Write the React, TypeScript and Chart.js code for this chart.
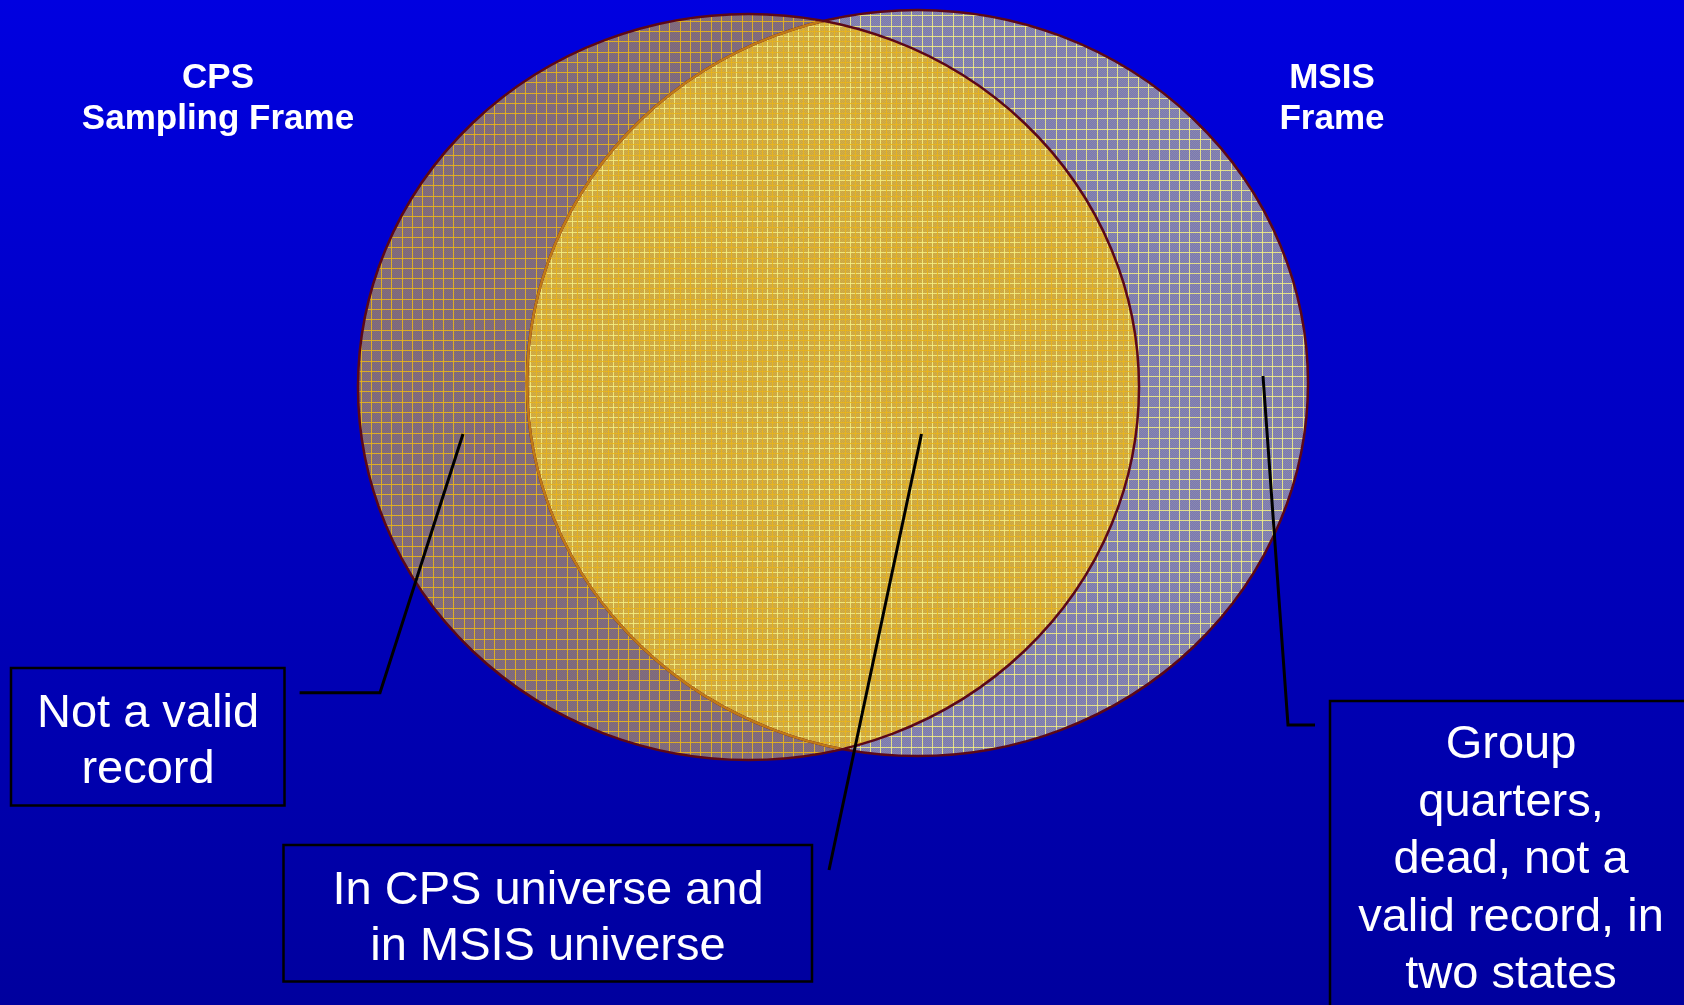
import React, { useEffect, useRef } from 'react';
import { Chart, registerables } from 'chart.js';

Chart.register(...registerables);

// ---------- data (in diagram units) ----------
const setNames = ['CPS', 'MSIS'];
const setCenterX = [748.5, 917.5];
const setCenterY = [387, 383];
const setRadiusX = [390.5, 390.5];
const setRadiusY = [373, 373];

const setTitles = [
  ['CPS', 'Sampling Frame'],
  ['MSIS', 'Frame'],
];

const calloutTexts = [
  ['Not a valid', 'record'],
  ['In CPS universe and', 'in MSIS universe'],
  ['Group', 'quarters,', 'dead, not a', 'valid record, in', 'two states'],
];

const leaderX = [
  [299.6, 380, 463],
  [921.5, 829],
  [1263, 1288, 1315],
];
const leaderY = [
  [692.7, 692.7, 434],
  [434, 870],
  [376, 725, 725],
];

// ---------- layout / style ----------
const W = 1684;
const H = 1005;
const titleLayout = [
  { cx: 218, base: 87.5, lh: 41 },
  { cx: 1332, base: 87.5, lh: 41 },
];
const boxLayout = [
  { x0: 11, y0: 668, x1: 284.5, y1: 805.5, cx: 148, base: 727, lh: 56 },
  { x0: 283.5, y0: 845, x1: 812, y1: 981.5, cx: 548, base: 904, lh: 56 },
  { x0: 1330, y0: 701, x1: 1692, y1: 1012, cx: 1511, base: 758, lh: 57.5 },
];
const GRID = 10.3;

function makeChecker(ctx: CanvasRenderingContext2D, a: string, b: string) {
  const c = document.createElement('canvas');
  c.width = 2;
  c.height = 2;
  const g = c.getContext('2d')!;
  g.fillStyle = a;
  g.fillRect(0, 0, 2, 2);
  g.fillStyle = b;
  g.fillRect(0, 0, 1, 1);
  g.fillRect(1, 1, 1, 1);
  return ctx.createPattern(c, 'repeat')!;
}

const vennPlugin = {
  id: 'venn',
  beforeDraw(chart: any) {
    const ctx: CanvasRenderingContext2D = chart.ctx;
    const grad = ctx.createLinearGradient(0, 0, 0, chart.height);
    grad.addColorStop(0, '#0000E0');
    grad.addColorStop(1, '#00009E');
    ctx.save();
    ctx.fillStyle = grad;
    ctx.fillRect(0, 0, chart.width, chart.height);
    ctx.restore();
  },
  beforeDatasetsDraw(chart: any) {
    const ctx: CanvasRenderingContext2D = chart.ctx;
    const xs = chart.scales.x;
    const ys = chart.scales.y;
    const ell = (i: number) => {
      const cx = xs.getPixelForValue(setCenterX[i]);
      const cy = ys.getPixelForValue(setCenterY[i]);
      const rx = Math.abs(xs.getPixelForValue(setCenterX[i] + setRadiusX[i]) - cx);
      const ry = Math.abs(ys.getPixelForValue(setCenterY[i] + setRadiusY[i]) - cy);
      ctx.beginPath();
      ctx.ellipse(cx, cy, rx, ry, 0, 0, Math.PI * 2);
    };
    const grid = (color: string, off: number, width: number) => {
      ctx.strokeStyle = color;
      ctx.lineWidth = width;
      ctx.beginPath();
      for (let x = off; x < chart.width; x += GRID) {
        const px = Math.round(x) + 0.5;
        ctx.moveTo(px, 0);
        ctx.lineTo(px, chart.height);
      }
      for (let y = off; y < chart.height; y += GRID) {
        const py = Math.round(y) + 0.5;
        ctx.moveTo(0, py);
        ctx.lineTo(chart.width, py);
      }
      ctx.stroke();
    };
    const L = setNames.indexOf('CPS');
    const R = setNames.indexOf('MSIS');

    ctx.save();
    // right set base
    ell(R);
    ctx.fillStyle = makeChecker(ctx, '#7878B4', '#8C88AC');
    ctx.fill();
    // left set base
    ell(L);
    ctx.fillStyle = makeChecker(ctx, '#786684', '#887076');
    ctx.fill();
    // intersection base
    ctx.save();
    ell(L);
    ctx.clip();
    ell(R);
    ctx.fillStyle = makeChecker(ctx, '#C8A448', '#D6B040');
    ctx.fill();
    ctx.restore();

    // right grid (light yellow)
    ctx.save();
    ell(R);
    ctx.clip();
    grid('rgba(245,240,130,0.85)', 5, 1);
    ctx.restore();
    // left grid (orange gold)
    ctx.save();
    ell(L);
    ctx.clip();
    grid('rgba(232,180,28,0.9)', 0, 1);
    ctx.restore();

    // outlines
    ctx.lineWidth = 2.5;
    ell(R);
    ctx.strokeStyle = '#5C0818';
    ctx.stroke();
    ctx.save();
    ell(L);
    ctx.clip();
    ell(R);
    ctx.strokeStyle = '#C07A18';
    ctx.stroke();
    ctx.restore();
    ell(L);
    ctx.strokeStyle = '#5C0818';
    ctx.stroke();
    ctx.restore();
  },
  afterDatasetsDraw(chart: any) {
    const ctx: CanvasRenderingContext2D = chart.ctx;
    const xs = chart.scales.x;
    const ys = chart.scales.y;
    ctx.save();
    ctx.fillStyle = '#FFFFFF';
    ctx.textAlign = 'center';
    ctx.textBaseline = 'alphabetic';
    // set titles
    ctx.font = "bold 35px 'Liberation Sans', Arial, sans-serif";
    setTitles.forEach((lines, i) => {
      const t = titleLayout[i];
      lines.forEach((s, j) => {
        ctx.fillText(s, xs.getPixelForValue(t.cx), ys.getPixelForValue(t.base + j * t.lh));
      });
    });
    // callout boxes
    ctx.font = "47px 'Liberation Sans', Arial, sans-serif";
    calloutTexts.forEach((lines, i) => {
      const b = boxLayout[i];
      const x0 = xs.getPixelForValue(b.x0);
      const x1 = xs.getPixelForValue(b.x1);
      const y0 = ys.getPixelForValue(b.y0);
      const y1 = ys.getPixelForValue(b.y1);
      ctx.strokeStyle = '#000000';
      ctx.lineWidth = 2.5;
      ctx.strokeRect(x0, y0, x1 - x0, y1 - y0);
      lines.forEach((s, j) => {
        ctx.fillText(s, xs.getPixelForValue(b.cx), ys.getPixelForValue(b.base + j * b.lh));
      });
    });
    ctx.restore();
  },
};

export default function App() {
  const ref = useRef<HTMLCanvasElement | null>(null);
  useEffect(() => {
    document.body.style.margin = '0';
    document.body.style.background = '#0000A0';
    const canvas = ref.current!;
    const datasets: any[] = [
      {
        label: 'sets',
        data: setCenterX.map((x, i) => ({ x, y: setCenterY[i] })),
        pointRadius: 0,
        showLine: false,
      },
      ...leaderX.map((xsArr, i) => ({
        label: 'leader ' + i,
        data: xsArr.map((x, j) => ({ x, y: leaderY[i][j] })),
        showLine: true,
        borderColor: '#000000',
        borderWidth: 3,
        pointRadius: 0,
        tension: 0,
        fill: false,
        borderJoinStyle: 'miter',
      })),
    ];
    const chart = new Chart(canvas, {
      type: 'scatter',
      data: { datasets },
      options: {
        animation: false,
        responsive: false,
        maintainAspectRatio: false,
        layout: { padding: 0 },
        plugins: { legend: { display: false }, tooltip: { enabled: false } },
        events: [],
        scales: {
          x: { type: 'linear', min: 0, max: W, display: false },
          y: { type: 'linear', min: 0, max: H, reverse: true, display: false },
        },
      },
      plugins: [vennPlugin],
    });
    return () => chart.destroy();
  }, []);
  return (
    <div style={{ width: W, height: H }}>
      <canvas ref={ref} width={W} height={H} style={{ display: 'block' }} />
    </div>
  );
}
